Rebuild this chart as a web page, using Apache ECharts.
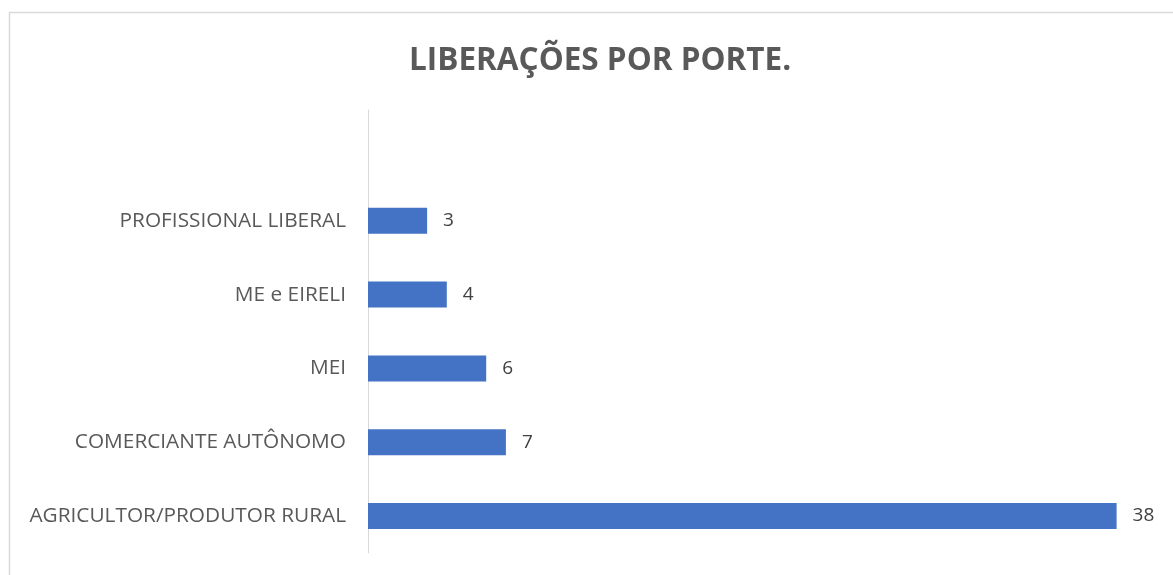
<!DOCTYPE html>
<html><head><meta charset="utf-8">
<script src="https://cdn.jsdelivr.net/npm/echarts@6/dist/echarts.min.js"></script>
<style>html,body{margin:0;padding:0;background:#fff}#c{width:1173px;height:575px}</style>
</head><body><div id="c"></div>
<script>
const titleText = 'LIBERAÇÕES POR PORTE.';
const categories = ['AGRICULTOR/PRODUTOR RURAL', 'COMERCIANTE AUTÔNOMO', 'MEI', 'ME e EIRELI', 'PROFISSIONAL LIBERAL', ''];
const values = [38, 7, 6, 4, 3, null];

const chart = echarts.init(document.getElementById('c'));
chart.setOption({
  animation: false,
  graphic: [{type: 'rect', shape: {x: 9.5, y: 12.5, width: 1200, height: 600}, style: {fill: 'none', stroke: '#d9d9d9', lineWidth: 1.5}, silent: true, z: -1}],
  title: {text: titleText, left: 404, top: 40, textStyle: {fontFamily: 'Open Sans', fontWeight: 'bold', fontSize: 31.5, color: '#595959'}},
  grid: {left: 368, right: 17, top: 110, bottom: 22, containLabel: false},
  xAxis: {type: 'value', min: 0, max: 40, show: false},
  yAxis: {type: 'category', data: categories,
    axisLine: {lineStyle: {color: '#d9d9d9', width: 1}}, axisTick: {show: false},
    axisLabel: {fontFamily: 'Open Sans', fontSize: 20.8, color: '#595959', margin: 22}},
  series: [{type: 'bar', data: values, barWidth: 26, itemStyle: {color: '#4472C4'},
    label: {show: true, position: 'right', distance: 16, fontFamily: 'Open Sans', fontSize: 19, color: '#404040'}}]
});
</script></body></html>
